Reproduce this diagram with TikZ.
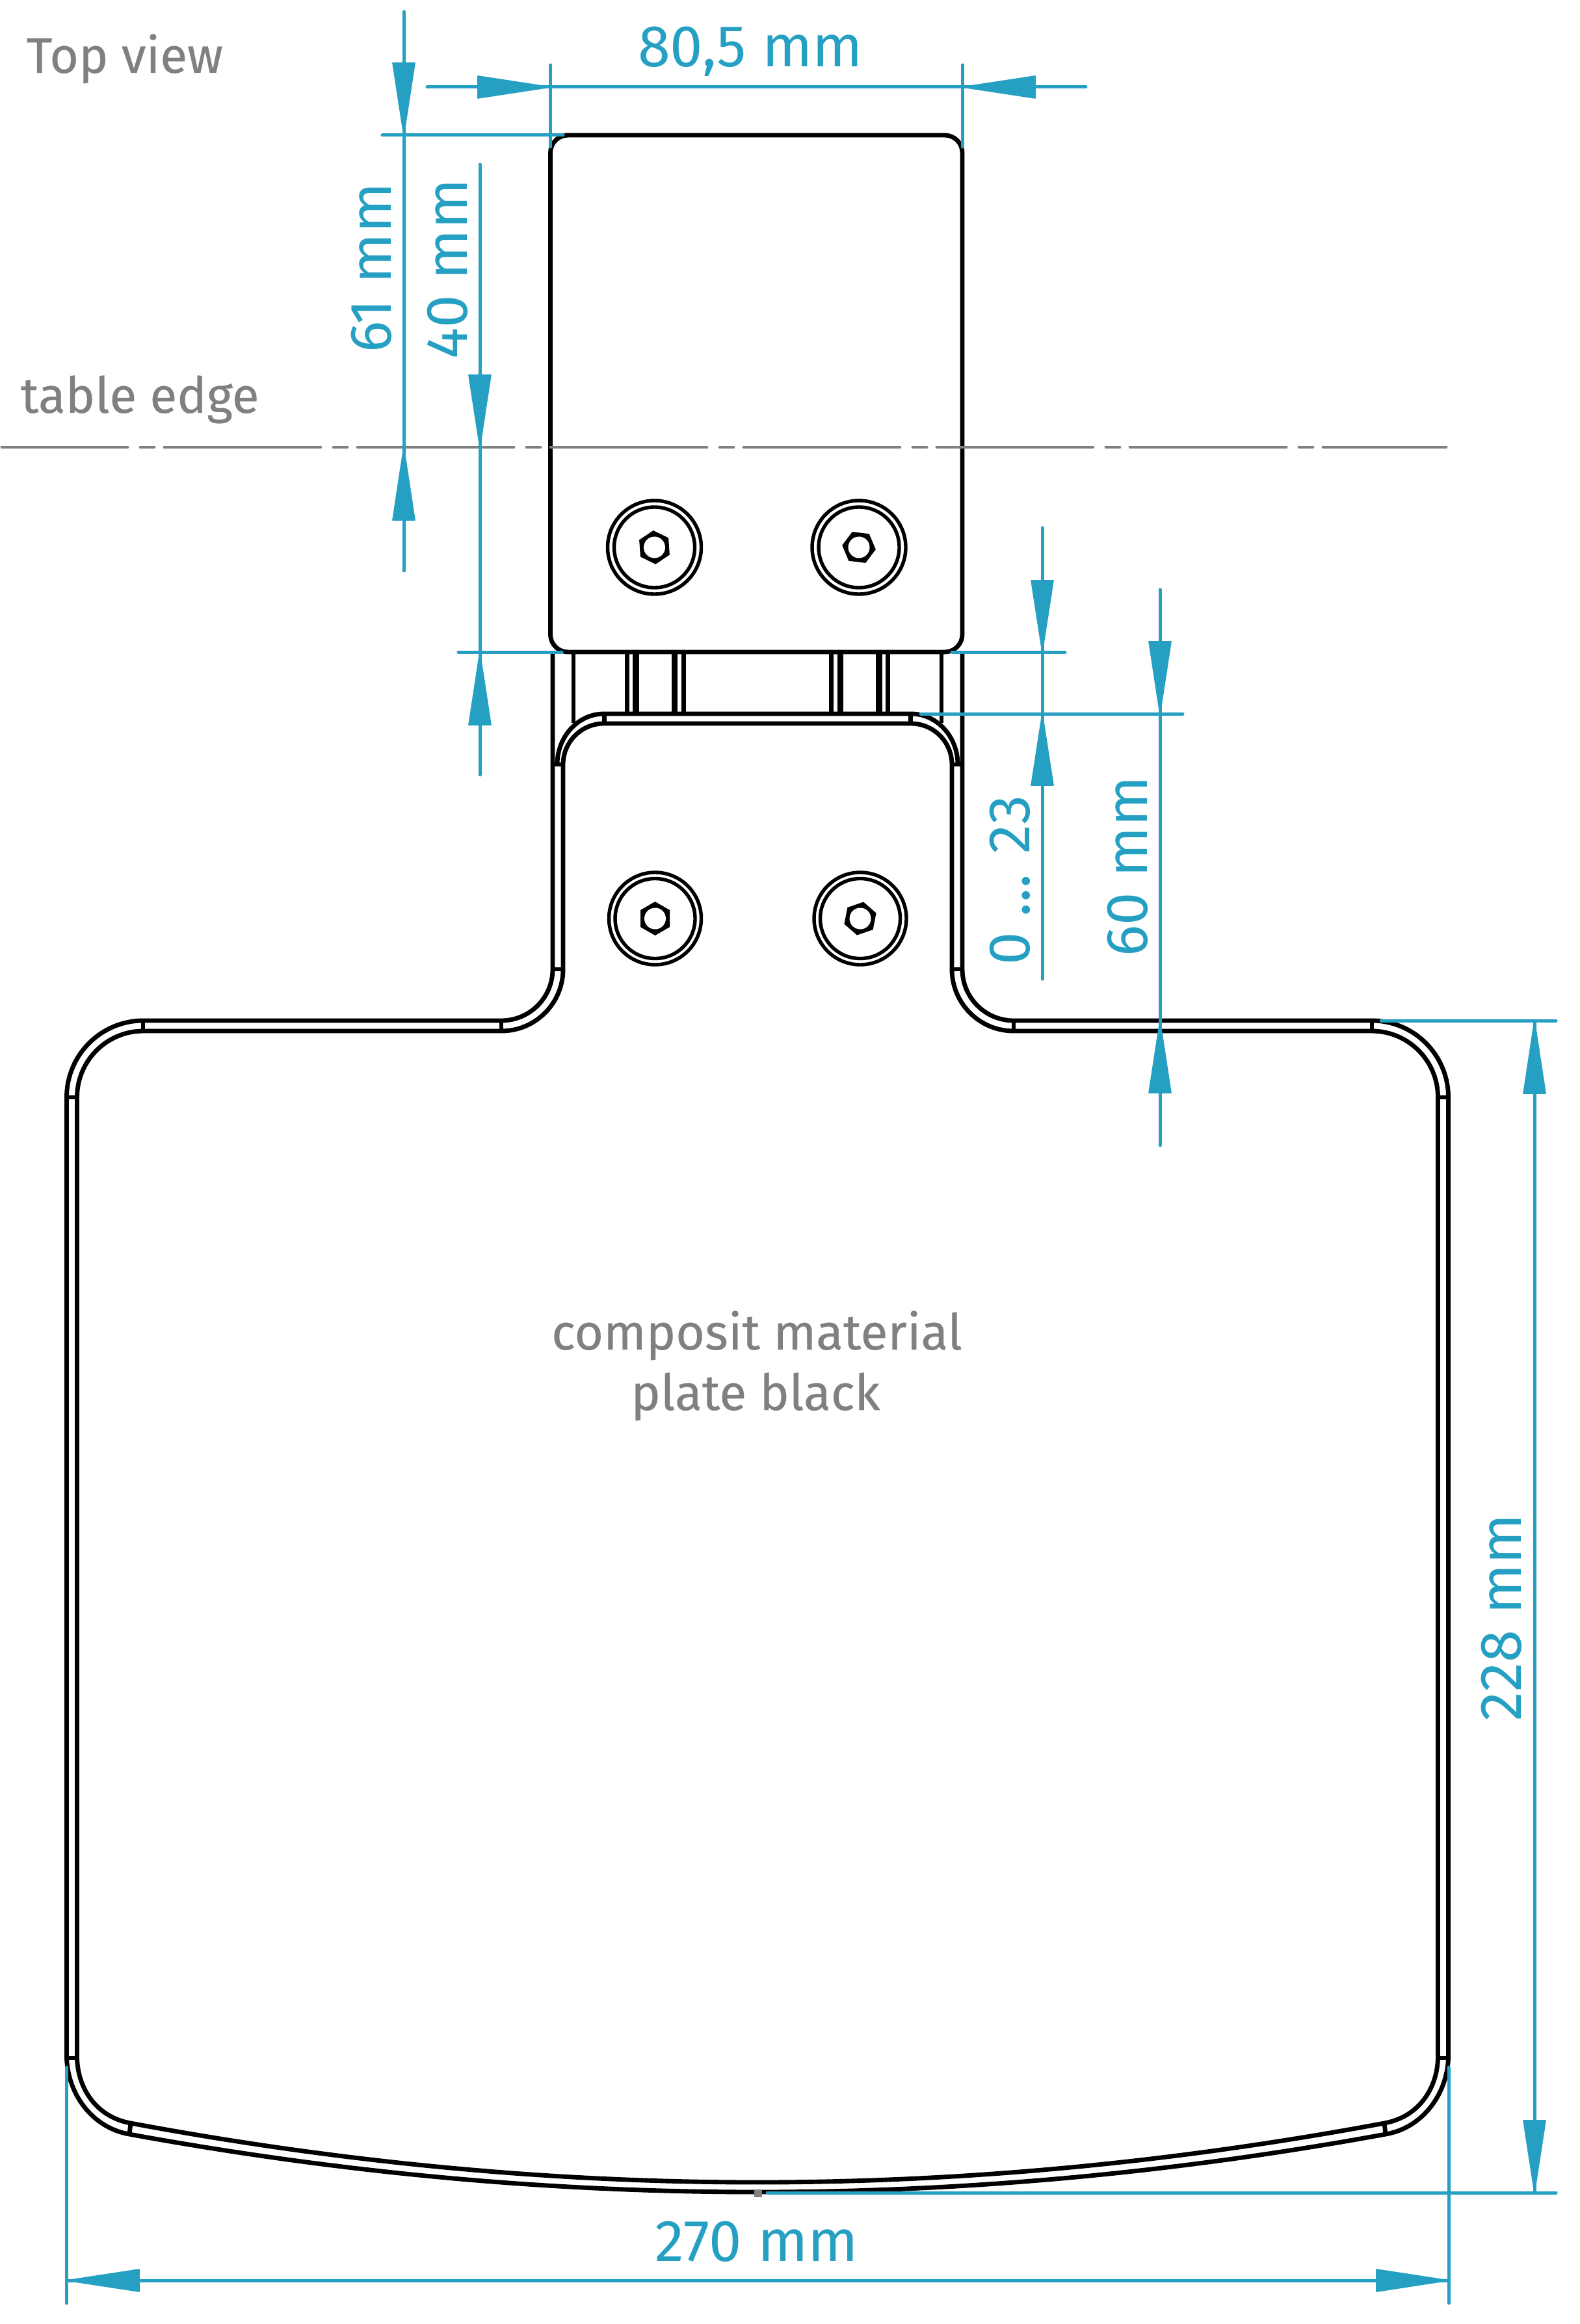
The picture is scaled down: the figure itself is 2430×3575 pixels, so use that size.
\documentclass[tikz,border=0pt]{standalone}
\usepackage{fontspec}
\setmainfont{Fira Sans}
\newfontfamily\dimfont{Fira Sans}
\newfontfamily\notefont[FakeBold=0.25]{Fira Sans}
\definecolor{dimblue}{HTML}{25A0C3}
\definecolor{notegray}{HTML}{808080}
\newcommand\halfshape{%
  \draw[part] (771,1570) -- (220.5,1570) arc[start angle=270,end angle=180,radius=118] -- (102.5,3166)
     .. controls (105,3225) and (145,3274) .. (199,3283)
     .. controls (521,3342) and (843,3372) .. (1165,3372);
  \draw[part] (771,1586) -- (220.5,1586) arc[start angle=270,end angle=180,radius=102] -- (118.5,3166)
     .. controls (120,3215) and (150,3257) .. (201,3266)
     .. controls (522,3326) and (844,3357) .. (1165,3357);
  \draw[part] (771,1570) arc[start angle=90,end angle=0,radius=79] -- (850,1003);
  \draw[part] (771,1586) arc[start angle=90,end angle=0,radius=95] -- (866,1176)
     arc[start angle=180,end angle=270,radius=63] -- (1165,1113);
  \draw[part] (857,1176) arc[start angle=180,end angle=270,x radius=72,y radius=78] -- (1165,1098);
  \draw[part] (850,1176) -- (866,1176);
  \draw[part] (850,1491) -- (866,1491);
  \draw[part] (929.5,1098) -- (929.5,1113);
  \draw[part] (771,1570) -- (771,1586);
  \draw[part] (220,1570) -- (220,1586);
  \draw[part] (102.5,1688) -- (118.5,1688);
  \draw[part] (102.5,3166) -- (118.5,3166);
  \draw[part] (201,3266) -- (199,3283);
  \draw[part] (882,1003) -- (882,1112);
  \draw[part] (964.7,1003) -- (964.7,1098);
  \draw[part] (1051.4,1003) -- (1051.4,1098);
  \draw[part,line width=2.4pt] (978,1003) -- (978,1098);
  \draw[part,line width=2.3pt] (1037.6,1003) -- (1037.6,1098);
}
% screw: centre x, centre y, outer radius, inner radius, hexagon rotation
\newcommand\screw[5]{%
  \begin{scope}[shift={(#1,#2)}]
    \draw[ring] (0,0) circle[radius=#3];
    \draw[ring] (0,0) circle[radius=#4];
    \fill[black] (#5:26) -- (#5+60:26) -- (#5+120:26) -- (#5+180:26) -- (#5+240:26) -- (#5+300:26) -- cycle;
    \fill[white] (0,0) circle[radius=16.5];
  \end{scope}%
}
\newcommand\arrV[3]{\filldraw[dimblue,line width=0.4pt,line join=round] (#1,#2) -- (#1-17,#3) -- (#1+17,#3) -- cycle;}
\newcommand\arrH[3]{\filldraw[dimblue,line width=0.4pt,line join=round] (#1,#2) -- (#3,#2-17) -- (#3,#2+17) -- cycle;}
\tikzset{
  part/.style={draw=black,line width=1.65pt,line join=round},
  ring/.style={draw=black,line width=1.3pt},
  dimline/.style={draw=dimblue,line width=1.2pt,line cap=round},
  tableline/.style={draw=notegray,line width=1.15pt,line cap=round},
  dimtext/.style={text=dimblue,inner sep=0pt,anchor=base,font=\dimfont\fontsize{21.7}{26}\selectfont},
  notetext/.style={text=notegray,inner sep=0pt,font=\notefont\fontsize{18.4}{24}\selectfont}
}
\begin{document}
\begin{tikzpicture}[x=0.24pt,y=-0.24pt]
\useasboundingbox (0,0) rectangle (2430,3575);
\fill[white] (0,0) rectangle (2430,3575);

% drawn part
\halfshape
\begin{scope}[shift={(2330,0)},xscale=-1]
  \halfshape
\end{scope}
\draw[part,rounded corners=6.5pt] (846.5,208) rectangle (1480,1003);
\screw{1006.5}{842}{72}{62}{26}
\screw{1321}{842}{72}{62}{7}
\screw{1007.5}{1413}{71}{61.5}{30}
\screw{1323}{1413}{71}{61.5}{41}
\fill[notegray] (1160,3368) rectangle (1172,3380);

% table edge
\foreach \s in {253,550,847,1144,1441,1738}{
  \draw[tableline] (\s,688) -- (\s+240,688);
  \draw[tableline] (\s+260,688) -- (\s+281,688);
}
\draw[tableline] (3,688) -- (196,688);
\draw[tableline] (216,688) -- (237,688);
\draw[tableline] (2035,688) -- (2224,688);

% dimension lines
\draw[dimline] (657,134) -- (1670,134);
\draw[dimline] (846.5,100) -- (846.5,226);
\draw[dimline] (1480,100) -- (1480,226);
\arrH{846.5}{134}{735}
\arrH{1480}{134}{1592}

\draw[dimline] (621,18) -- (621,878);
\draw[dimline] (588,208) -- (866,208);
\arrV{621}{208}{97}
\arrV{621}{688}{800}

\draw[dimline] (738,253) -- (738,1192);
\draw[dimline] (705,1003) -- (864,1003);
\draw[dimline] (1464,1003) -- (1638,1003);
\arrV{738}{688}{577}
\arrV{738}{1003}{1115}

\draw[dimline] (1603,812) -- (1603,1506);
\draw[dimline] (1416,1098) -- (1819,1098);
\arrV{1603}{1003}{893}
\arrV{1603}{1098}{1208}

\draw[dimline] (1784,907) -- (1784,1762);
\draw[dimline] (2124,1570) -- (2393,1570);
\arrV{1784}{1098}{987}
\arrV{1784}{1570}{1681}

\draw[dimline] (2360,1570) -- (2360,3373);
\draw[dimline] (1180,3373) -- (2393,3373);
\arrV{2360}{1570}{1682}
\arrV{2360}{3373}{3262}

\draw[dimline] (102.5,3508) -- (2228,3508);
\draw[dimline] (102.5,3180) -- (102.5,3543);
\draw[dimline] (2228,3180) -- (2228,3543);
\arrH{102.5}{3508}{214}
\arrH{2228}{3508}{2117}

% texts
\node[notetext,anchor=base west] (topview) at (40,112) {Top view};
\node[notetext,anchor=base west] (tableedge) at (31,635) {table edge};
\node[notetext,anchor=base] (material1) at (1164,2076) {composit material};
\node[notetext,anchor=base] (material2) at (1162,2169) {plate black};
\node[dimtext] (d805) at (1154,103) {80,5 mm};
\node[dimtext,rotate=90] (d61) at (601,412) {61 mm};
\node[dimtext,rotate=90] (d40) at (718,414) {40 mm};
\node[dimtext,rotate=90] (d023) at (1583,1354) {0 ... 23};
\node[dimtext,rotate=90] (d60) at (1764,1333) {60 mm};
\node[dimtext,rotate=90] (d228) at (2339,2488) {228 mm};
\node[dimtext] (d270) at (1164,3478) {270 mm};
\end{tikzpicture}
\end{document}
